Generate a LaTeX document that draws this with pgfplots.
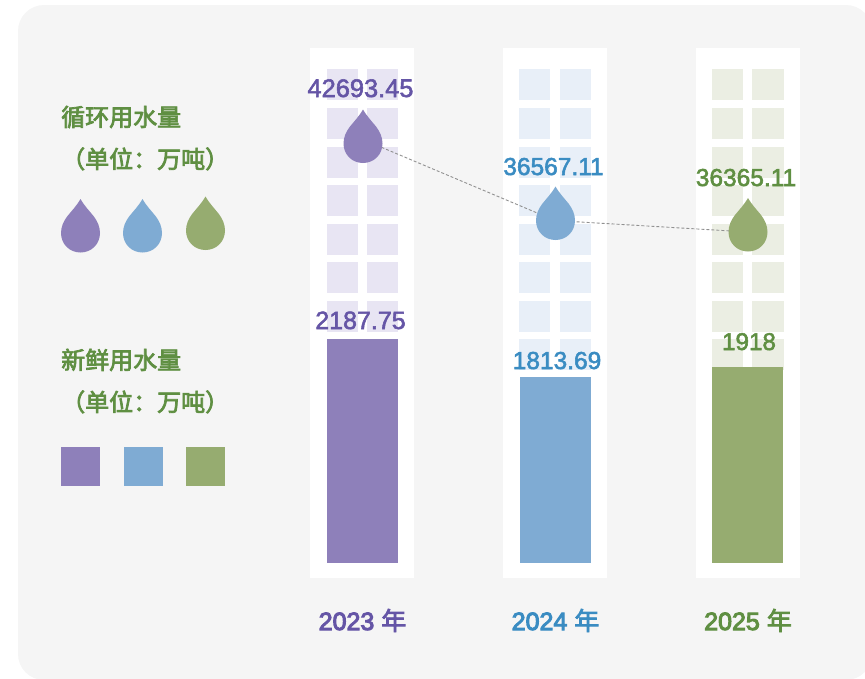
\documentclass[border=0pt]{standalone}
\usepackage{pgfplots}
\pgfplotsset{compat=1.18}
\usepackage{fontspec}
\setmainfont{Liberation Sans}
\newfontfamily\numf{Liberation Sans}[FakeBold=2.2]
\newfontfamily\yearf{Liberation Sans}[FakeBold=4]
\newfontfamily\cjk{Noto Sans CJK SC}[FakeBold=3]
\definecolor{panel}{HTML}{F5F5F5}
\definecolor{pBar}{HTML}{8E80BA}
\definecolor{bBar}{HTML}{7FABD3}
\definecolor{gBar}{HTML}{96AC70}
\definecolor{pCell}{HTML}{E8E5F3}
\definecolor{bCell}{HTML}{E8EFF8}
\definecolor{gCell}{HTML}{EBEEE3}
\definecolor{pText}{HTML}{6555A6}
\definecolor{bText}{HTML}{3A8CC2}
\definecolor{gText}{HTML}{5F8F42}
\definecolor{lineGray}{HTML}{909090}
\pgfdeclareplotmark{drop}{%
  \pgfpathmoveto{\pgfpoint{0pt}{34pt}}%
  \pgfpathcurveto{\pgfpoint{-4pt}{27pt}}{\pgfpoint{-9pt}{22pt}}{\pgfpoint{-13pt}{17pt}}%
  \pgfpathcurveto{\pgfpoint{-17pt}{12pt}}{\pgfpoint{-19.5pt}{6pt}}{\pgfpoint{-19.5pt}{0pt}}%
  \pgfpathcurveto{\pgfpoint{-19.5pt}{-11pt}}{\pgfpoint{-11pt}{-19.5pt}}{\pgfpoint{0pt}{-19.5pt}}%
  \pgfpathcurveto{\pgfpoint{11pt}{-19.5pt}}{\pgfpoint{19.5pt}{-11pt}}{\pgfpoint{19.5pt}{0pt}}%
  \pgfpathcurveto{\pgfpoint{19.5pt}{6pt}}{\pgfpoint{17pt}{12pt}}{\pgfpoint{13pt}{17pt}}%
  \pgfpathcurveto{\pgfpoint{9pt}{22pt}}{\pgfpoint{4pt}{27pt}}{\pgfpoint{0pt}{34pt}}%
  \pgfpathclose\pgfusepathqfill}
% one row of two window cells: x1 x2 x3 x4 y1 y2 colour
\newcommand{\cellrow}[7]{%
  \fill[#7] (axis cs:#1,#5) rectangle (axis cs:#2,#6);
  \fill[#7] (axis cs:#3,#5) rectangle (axis cs:#4,#6);}
\newcommand{\cells}[5]{%
  \cellrow{#1}{#2}{#3}{#4}{69}{100}{#5}
  \cellrow{#1}{#2}{#3}{#4}{108}{139}{#5}
  \cellrow{#1}{#2}{#3}{#4}{147}{178}{#5}
  \cellrow{#1}{#2}{#3}{#4}{185}{216}{#5}
  \cellrow{#1}{#2}{#3}{#4}{224}{255}{#5}
  \cellrow{#1}{#2}{#3}{#4}{262}{293}{#5}
  \cellrow{#1}{#2}{#3}{#4}{301}{332}{#5}
  \cellrow{#1}{#2}{#3}{#4}{339}{370}{#5}}
\begin{document}
\begin{tikzpicture}
\useasboundingbox (0,0) rectangle (865pt,678pt);
% pixel-coordinate layer: panel, windows
\begin{axis}[
  name=px, at={(0,0)}, anchor=south west,
  scale only axis, width=865pt, height=678pt,
  xmin=0, xmax=865, ymin=0, ymax=678, y dir=reverse,
  axis lines=none, clip=true,
]
\fill[panel, rounded corners=26pt] (axis cs:18,5) rectangle (axis cs:872,680);
\fill[white] (axis cs:310,48) rectangle (axis cs:414,578);
\fill[white] (axis cs:503,48) rectangle (axis cs:607,578);
\fill[white] (axis cs:696,48) rectangle (axis cs:800,578);
\cells{327}{358}{367}{398}{pCell}
\cells{519}{550}{560}{591}{bCell}
\cells{712}{743}{752}{783.5}{gCell}
\end{axis}
% bars, in the chart's own values: baseline at pixel row 563, 0.1024 px per unit
\begin{axis}[
  at={(0,0)}, anchor=south west,
  scale only axis, width=865pt, height=678pt,
  xmin=0, xmax=865, ymin=-1123.0, ymax=5498.0,
  axis lines=none, ybar, bar width=71.5pt, bar shift=0pt, clip=true,
]
\addplot[fill=pBar, draw=none] coordinates {(362.5,2187.75)};
\addplot[fill=bBar, draw=none] coordinates {(555.5,1813.69)};
\addplot[fill=gBar, draw=none] coordinates {(747.7,1918)};
\end{axis}
% recycled-water line and all text, pixel coordinates again
\begin{axis}[
  at={(0,0)}, anchor=south west,
  scale only axis, width=865pt, height=678pt,
  xmin=0, xmax=865, ymin=0, ymax=678, y dir=reverse,
  axis lines=none, clip=false,
]
\addplot[lineGray, line width=0.9pt, dash pattern=on 3pt off 2pt] coordinates {(363,139.5) (555,220.5) (748,232)};
\addplot[only marks, mark=drop, color=pBar] coordinates {(363,143.5) (80.5,233)};
\addplot[only marks, mark=drop, color=bBar] coordinates {(555.5,220.5) (142.5,233)};
\addplot[only marks, mark=drop, color=gBar] coordinates {(748,232) (205.5,230.5)};
\addplot[only marks, mark=square*, mark size=18.7pt, mark options={draw=none}, color=pBar] coordinates {(80,466)};
\addplot[only marks, mark=square*, mark size=18.7pt, mark options={draw=none}, color=bBar] coordinates {(143,466)};
\addplot[only marks, mark=square*, mark size=18.7pt, mark options={draw=none}, color=gBar] coordinates {(205,466)};

\newcommand{\val}[5]{\node[text=#4, font=\fontsize{#5}{#5}\selectfont\numf, anchor=base, inner sep=0pt] at (axis cs:#1,#2) {#3};}
\val{360.5}{97}{42693.45}{pText}{25.4}
\val{553.5}{175}{36567.11}{bText}{24.5}
\val{746}{186}{36365.11}{gText}{24.5}
\val{360.5}{329}{2187.75}{pText}{25}
\val{557}{369}{1813.69}{bText}{24.5}
\val{749}{350}{1918}{gText}{24.2}
\newcommand{\yr}[3]{\node[text=#3, font=\fontsize{25}{25}\selectfont\yearf, anchor=base, inner sep=0pt] at (axis cs:#1,630) {#2 {\cjk 年}};}
\yr{362.5}{2023}{pText}
\yr{555.5}{2024}{bText}
\yr{748}{2025}{gText}
\newcommand{\ttl}[3]{\node[text=gText, font=\fontsize{24}{24}\selectfont\cjk, anchor=base west, inner sep=0pt] at (axis cs:#1,#2) {#3};}
\ttl{61}{126}{循环用水量}
\ttl{61}{168}{（单位：万吨）}
\ttl{61}{369}{新鲜用水量}
\ttl{61}{411}{（单位：万吨）}
\end{axis}
\end{tikzpicture}
\end{document}
